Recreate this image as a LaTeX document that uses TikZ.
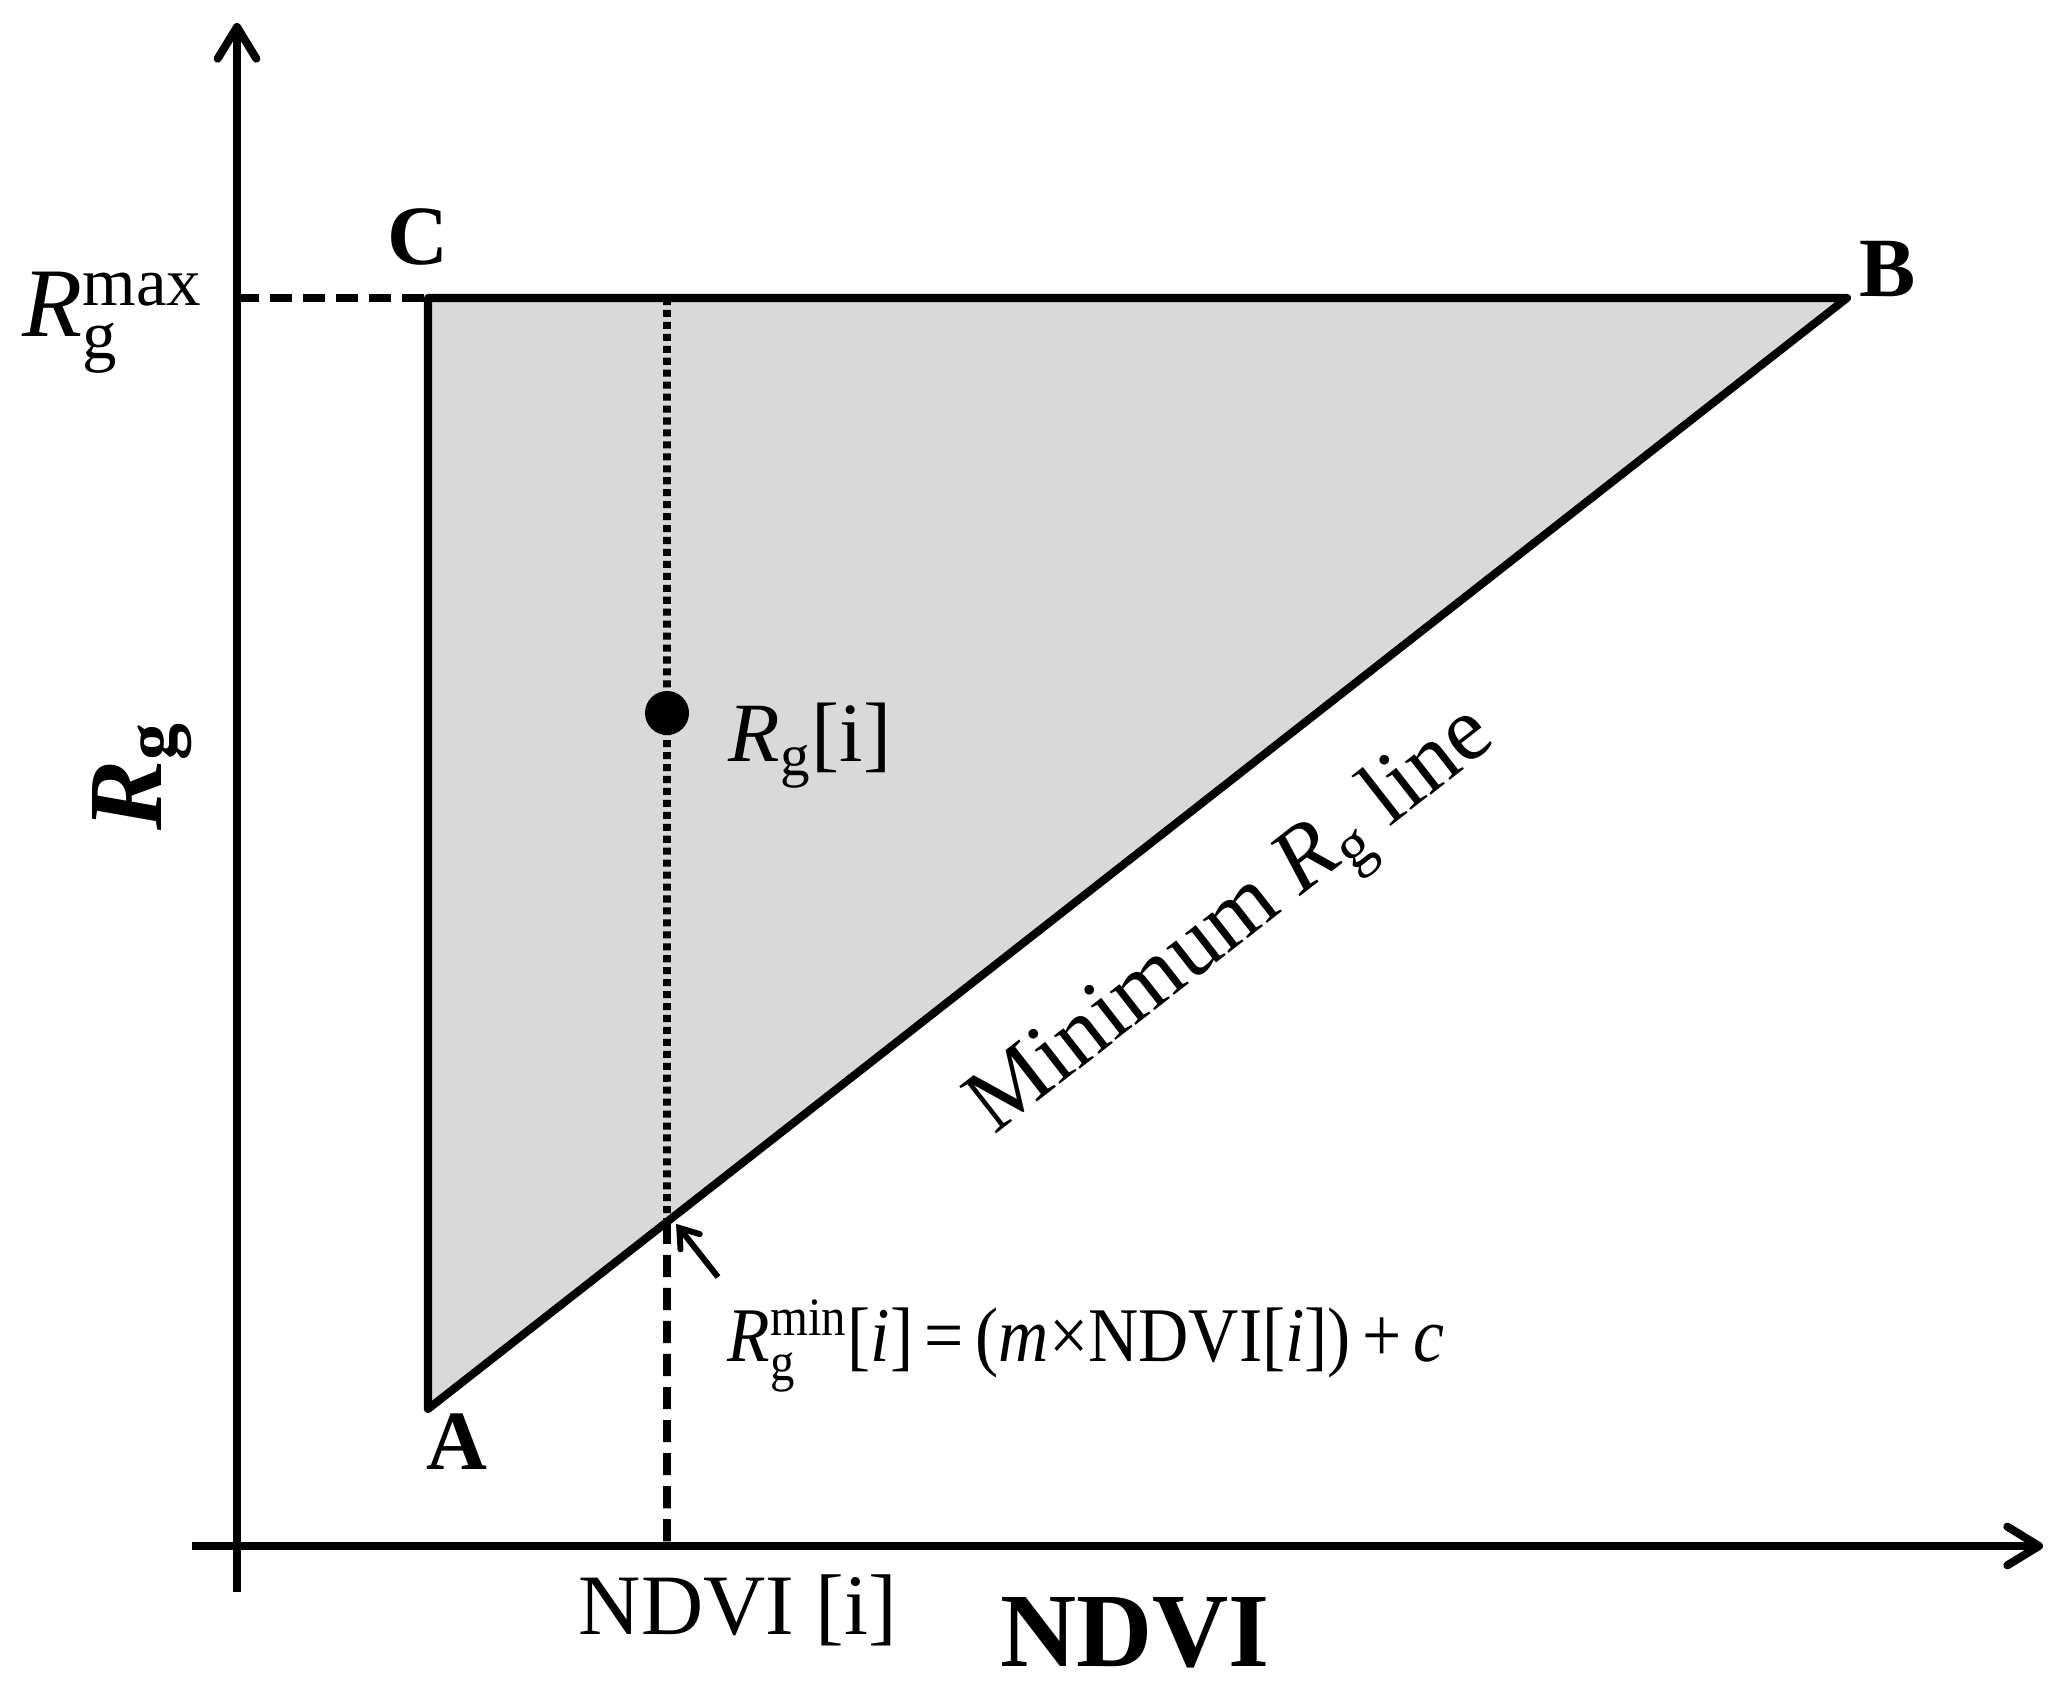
\documentclass[tikz,border=0pt]{standalone}
\usepackage{amsmath}
\usepackage{fontspec}
\setmainfont{Liberation Serif}
\usetikzlibrary{arrows.meta, calc}

\definecolor{zone}{gray}{0.85}
\newcommand{\Rg}{\textit{R}$_{\text{g}}$}
\newcommand{\fs}[1]{\fontsize{#1}{1.2\dimexpr#1pt\relax}\selectfont}

\tikzset{
    axis/.style={line width=2.3pt, -{Straight Barb[length=9pt, width=11pt, line cap=round, line join=round]}},
    edge/.style={line width=2.3pt, line join=round},
    guide/.style={line width=2.2pt, dash pattern=on 6.3pt off 3.1pt},
    dotline/.style={line width=2.2pt, dash pattern=on 2pt off 1.4pt},
    corner/.style={font=\fs{24}\bfseries, anchor=base}
}

\begin{document}
\begin{tikzpicture}
    \useasboundingbox (0,0) rectangle (20.71,16.99);
    % axes
    \coordinate (ybot) at (2.37,1.07); \coordinate (ytop) at (2.37,16.76);
    \coordinate (xleft) at (1.92,1.53); \coordinate (xright) at (20.43,1.53);
    \draw[axis] (ybot) -- (ytop);
    \draw[axis] (xleft) -- (xright);
    % triangle
    \coordinate (A) at (4.28,2.90); \coordinate (B) at (18.47,14.01); \coordinate (C) at (4.28,14.01);
    \coordinate (Rmax) at (2.37,14.01);
    \coordinate (top) at (6.67,14.01); \coordinate (foot) at (6.67,1.53);
    \coordinate (P) at (intersection of A--B and top--foot);
    \fill[zone] (A) -- (B) -- (C) -- cycle;
    \draw[dotline] (top) -- (P);
    \draw[guide] (P) -- (foot);
    \draw[guide] (Rmax) -- (C);
    \draw[edge] (A) -- (B) -- (C) -- cycle;
    \fill (6.67,9.86) circle (0.22) coordinate (Ri);
    % labels
    \node[corner] (lA) at (4.57,2.29) {A};
    \node[corner] (lB) at (18.88,14.02) {B};
    \node[corner] (lC) at (4.18,14.34) {C};
    \node[font=\fs{28}, anchor=base west, inner sep=0pt] (lmax) at (0.22,13.62) {\textit{R}$^{\text{max}}_{\text{g}}$};
    \node[font=\fs{24}, anchor=base west, inner sep=0pt] (lRi) at (7.28,9.37) {\Rg[i]};
    \node[font=\fs{26}, rotate=38] (lline) at (12.35,7.74) {Minimum \Rg\ line};
    \node[font=\fs{22}, anchor=base west, inner sep=0pt] (lmin) at (7.27,3.37)
        {\scalebox{0.9}[1]{\textit{R}$^{\text{min}}_{\text{g}}$[\textit{i}]\,=\,(\textit{m}×NDVI[\textit{i}])\,+\,\textit{c}}};
    \coordinate (tail) at (7.18,4.22);
    \draw[line width=1.7pt, -{Straight Barb[length=5pt, width=7pt, line cap=round]}] (tail) -- ($(P)+(0.09,-0.02)$);
    \node[font=\fs{24.5}, anchor=base] (lndvii) at (7.38,0.64) {NDVI [i]};
    \node[font=\fs{30}\bfseries, anchor=base] (lndvi) at (11.35,0.33) {NDVI};
    \node[font=\fs{30}\bfseries, rotate=90, anchor=base] (lrg) at (1.62,9.23) {\textit{R}$_{\text{\upshape g}}$};
\end{tikzpicture}
\end{document}
